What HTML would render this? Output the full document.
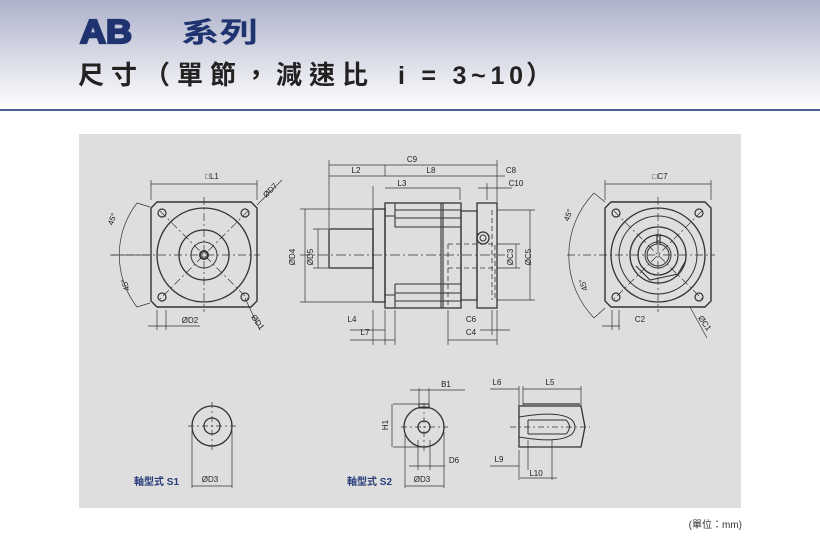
<!DOCTYPE html>
<html><head><meta charset="utf-8"><style>
body{margin:0;width:820px;height:533px;overflow:hidden;background:#fff;font-family:"Liberation Sans","Noto Sans CJK TC",sans-serif}
</style></head><body>
<svg width="820" height="533" viewBox="0 0 820 533" xmlns="http://www.w3.org/2000/svg" font-family="Liberation Sans, Noto Sans CJK TC, sans-serif">
<defs><linearGradient id="g" x1="0" y1="0" x2="0" y2="1"><stop offset="0" stop-color="#aeb2ca"/><stop offset="1" stop-color="#ffffff"/></linearGradient></defs>
<rect x="0" y="0" width="820" height="110" fill="url(#g)"/>
<rect x="0" y="109" width="820" height="2" fill="#4a5f8a"/>
<text x="80" y="43" font-size="33" font-weight="bold" fill="#1e3370" stroke="#1e3370" stroke-width="2.2" textLength="52" lengthAdjust="spacingAndGlyphs">AB</text>
<text x="181" y="42" font-size="28" font-weight="bold" fill="#1e3370" textLength="77" lengthAdjust="spacingAndGlyphs">系列</text>
<text x="78" y="84" font-size="26" font-weight="bold" fill="#222" letter-spacing="7">尺寸（單節，減速比</text>
<text x="398" y="84" font-size="25" font-weight="bold" fill="#222" textLength="125" lengthAdjust="spacing">i = 3~10</text>
<text x="526" y="84" font-size="26" font-weight="bold" fill="#222">）</text>
<rect x="79" y="134" width="662" height="374" fill="#dedede"/>
<text x="742" y="528" font-size="10" fill="#333" text-anchor="end">(單位：mm)</text>
<g stroke="#333" fill="none" stroke-width="1">
<path d="M157,202 H251 L257,208 V301 L251,307 H157 L151,301 V208 Z" stroke-width="1.4"/>
<circle cx="204" cy="255" r="47" stroke-width="1.3"/>
<circle cx="204" cy="255" r="25" stroke-width="1.3"/>
<circle cx="204" cy="255" r="13"/>
<circle cx="204" cy="255" r="4" stroke-width="2"/>
<g stroke-width="1.2"><circle cx="162" cy="213" r="4"/><circle cx="245" cy="213" r="4"/><circle cx="162" cy="297" r="4"/><circle cx="245" cy="297" r="4"/></g>
<g stroke-dasharray="8 3 2 3" stroke-width=".7"><path d="M110,255 H260 M204,197 V312 M160,211 L248,299 M248,211 L160,299"/></g>
<path d="M151,184 H257 M151,180 V200 M257,180 V200" stroke-width=".7"/>
<path d="M137,203 A85,85 0 0 0 137,307 M137,203 L150,207 M137,307 L150,303 M112,255 H150" stroke-width=".7"/>
<path d="M257,205 L282,180 M245,298 L260,330" stroke-width=".7"/>
<path d="M148,326 H200 M157,310 V330 M166,310 V330" stroke-width=".7"/>
<rect x="329" y="229" width="44" height="39" stroke-width="1.3"/>
<rect x="373" y="209" width="12" height="93" stroke-width="1.3"/>
<rect x="385" y="203" width="76" height="105" stroke-width="1.3"/>
<path d="M395,203 V227 M395,284 V308 M395,210 H461 M395,218 H461 M395,227 H461 M395,284 H461 M395,293 H461 M395,301 H461 M441,203 V308 M443,203 V308 M385,216 H395 M385,295 H395" stroke-width="1.1"/>
<rect x="461" y="211" width="16" height="89" stroke-width="1.2"/>
<rect x="477" y="203" width="20" height="105" stroke-width="1.3"/>
<circle cx="483" cy="238" r="6" stroke-width="1.3"/><circle cx="483" cy="238" r="3"/>
<path d="M448,244 H495 V300 M448,244 V308 M448,268 H495 M492,210 V300" stroke-dasharray="5 3" stroke-width=".8"/>
<path d="M300,255 H505" stroke-dasharray="10 3 2 3" stroke-width=".7"/>
<path d="M329,165 H497 M329,176 H497 M385,176 V165 M329,160 V228 M497,160 V202 M385,188 H460 M373,186 V208 M460,188 V200 M478,176 H505 M478,188 H512 M487,183 V200" stroke-width=".7"/>
<path d="M300,209 H372 M300,302 H372 M305,209 V302 M313,229 H328 M313,268 H328 M318,229 V268" stroke-width=".7"/>
<path d="M497,210 H535 M497,300 H535 M530,210 V300 M497,244 H520 M497,268 H520 M516,244 V268" stroke-width=".7"/>
<path d="M350,330 H385 M350,340 H395 M373,310 V345 M385,310 V345 M395,310 V345 M448,310 V345 M497,310 V345 M448,340 H497 M480,330 H510 M492,310 V335" stroke-width=".7"/>
<path d="M611,202 H705 L711,208 V301 L705,307 H611 L605,301 V208 Z" stroke-width="1.4"/>
<circle cx="658" cy="255" r="47" stroke-width="1.3"/>
<circle cx="658" cy="255" r="39"/>
<circle cx="658" cy="255" r="28" stroke-width="1.3"/>
<path d="M636,266 L650,280 L678,274 L686,260" stroke-width="1.1"/>
<circle cx="658" cy="255" r="20" stroke-width="1.3"/>
<circle cx="658" cy="255" r="13"/>
<circle cx="658" cy="255" r="11"/>
<path d="M657,234 V244 M660,234 V244" stroke-width="1.2"/>
<g stroke-width="1.2"><circle cx="616" cy="213" r="4"/><circle cx="699" cy="213" r="4"/><circle cx="616" cy="297" r="4"/><circle cx="699" cy="297" r="4"/></g>
<g stroke-dasharray="8 3 2 3" stroke-width=".7"><path d="M567,255 H715 M658,197 V312 M614,211 L702,299 M702,211 L614,299"/></g>
<path d="M605,184 H711 M605,180 V200 M711,180 V200" stroke-width=".7"/>
<path d="M594,193 A90,90 0 0 0 594,318 M594,193 L605,202 M594,318 L605,308" stroke-width=".7"/>
<path d="M690,307 L707,338 M602,326 H620 M612,310 V330 M619,310 V330" stroke-width=".7"/>
<circle cx="212" cy="426" r="20" stroke-width="1.3"/><circle cx="212" cy="426" r="8" stroke-width="1.3"/>
<path d="M188,426 H236 M212,402 V450" stroke-dasharray="6 3 2 3" stroke-width=".7"/>
<path d="M192,430 V488 M232,430 V488 M192,486 H232" stroke-width=".7"/>
<circle cx="424" cy="427" r="20" stroke-width="1.3"/><circle cx="424" cy="427" r="6" stroke-width="1.3"/>
<rect x="419" y="404" width="10" height="4" stroke-width="1.1"/>
<path d="M401,427 H448 M424,403 V452" stroke-dasharray="6 3 2 3" stroke-width=".7"/>
<path d="M393,404 H420 M393,447 H420 M392,404 V447 M410,390 H465 M419,388 V404 M429,388 V404 M405,432 V488 M444,432 V488 M405,486 H444 M409,466 H445 M418,440 V470 M430,440 V470" stroke-width=".7"/>
<path d="M519,406 V447 H581 L585,427 L581,406 Z M523,404 H580" stroke-width="1.3"/>
<path d="M519,417 Q560,410 572,420 Q578,427 572,434 Q560,444 519,437 M528,420 H566 M528,434 H566 M528,420 V434 M566,420 Q573,427 566,434" stroke-width="1"/>
<path d="M510,427 H590" stroke-dasharray="6 3 2 3" stroke-width=".7"/>
<path d="M490,389 H519 M523,389 H581 M519,386 V406 M523,386 V406 M581,386 V406 M490,466 H519 M520,478 H557 M519,450 V480 M528,440 V470 M552,440 V480" stroke-width=".7"/>
</g>
<g font-size="8" fill="#222" text-anchor="middle">
<text x="212" y="179">□L1</text>
<text x="190" y="323">ØD2</text>
<text x="270" y="193" transform="rotate(-45 270 190)">ØD7</text>
<text x="258" y="325" transform="rotate(55 258 322)">ØD1</text>
<text x="112" y="222" transform="rotate(-70 112 219)">45°</text>
<text x="125" y="288" transform="rotate(-110 125 285)">45°</text>
<text x="412" y="162">C9</text>
<text x="356" y="173">L2</text>
<text x="431" y="173">L8</text>
<text x="511" y="173">C8</text>
<text x="402" y="186">L3</text>
<text x="516" y="186">C10</text>
<text x="292" y="260" transform="rotate(-90 292 257)">ØD4</text>
<text x="310" y="260" transform="rotate(-90 310 257)">ØD5</text>
<text x="510" y="260" transform="rotate(-90 510 257)">ØC3</text>
<text x="528" y="260" transform="rotate(-90 528 257)">ØC5</text>
<text x="352" y="322">L4</text>
<text x="365" y="335">L7</text>
<text x="471" y="322">C6</text>
<text x="471" y="335">C4</text>
<text x="660" y="179">□C7</text>
<text x="640" y="322">C2</text>
<text x="705" y="326" transform="rotate(55 705 323)">ØC1</text>
<text x="568" y="218" transform="rotate(-70 568 215)">45°</text>
<text x="583" y="288" transform="rotate(-110 583 285)">45°</text>
<text x="210" y="482">ØD3</text>
<text x="422" y="482">ØD3</text>
<text x="454" y="463">D6</text>
<text x="446" y="387">B1</text>
<text x="385" y="428" transform="rotate(-90 385 425)">H1</text>
<text x="497" y="385">L6</text>
<text x="550" y="385">L5</text>
<text x="499" y="462">L9</text>
<text x="536" y="476">L10</text>
</g>
<g font-size="10" font-weight="bold" fill="#2a3d78"><text x="134" y="485">軸型式 S1</text><text x="347" y="485">軸型式 S2</text></g>
</svg>
</body></html>
